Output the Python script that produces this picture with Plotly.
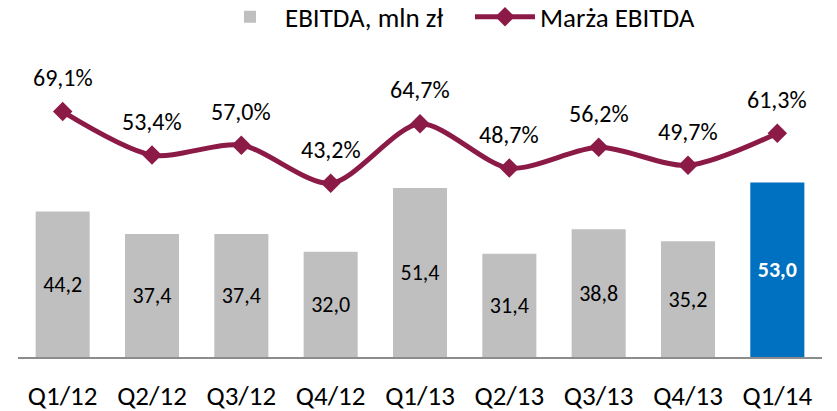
import plotly.graph_objects as go

# data
quarters = ['Q1/12', 'Q2/12', 'Q3/12', 'Q4/12', 'Q1/13', 'Q2/13', 'Q3/13', 'Q4/13', 'Q1/14']
ebitda = [44.2, 37.4, 37.4, 32.0, 51.4, 31.4, 38.8, 35.2, 53.0]
margin = [69.1, 53.4, 57.0, 43.2, 64.7, 48.7, 56.2, 49.7, 61.3]

GRAY = '#BFBFBF'
BLUE = '#0070C0'
WINE = '#8C1A47'
FONT = 'Carlito, Lato, sans-serif'

bar_colors = [GRAY] * (len(quarters) - 1) + [BLUE]
bar_text = ['%.1f' % v for v in ebitda]
bar_text = [t.replace('.', ',') for t in bar_text]
bar_text[-1] = '<b>' + bar_text[-1] + '</b>'
bar_font_col = ['black'] * (len(quarters) - 1) + ['white']

fig = go.Figure()

fig.add_trace(go.Bar(x=quarters, y=ebitda,
                     name='EBITDA, mln zł',
                     marker=dict(color=bar_colors, line=dict(width=0)),
                     text=bar_text,
                     textposition='inside',
                     insidetextanchor='middle',
                     textangle=0,
                     textfont=dict(size=22, color=bar_font_col, family=FONT),
                     hoverinfo='skip'))

fig.add_trace(go.Scatter(x=quarters, y=margin,
                         name='Marża EBITDA',
                         yaxis='y2',
                         mode='lines+markers',
                         line=dict(color=WINE, width=5, shape='spline', smoothing=0.8),
                         marker=dict(symbol='diamond', size=15, color=WINE),
                         hoverinfo='skip'))

# percent labels over the line
for q, m in zip(quarters, margin):
    fig.add_annotation(x=q, y=m, yref='y2',
                       text=('%.1f%%' % m).replace('.', ','),
                       showarrow=False, yshift=34,
                       font=dict(size=24, color='black', family=FONT))

# fixed category range, otherwise the markers pad the axis
fig.update_xaxes(range=[-0.5, len(quarters) - 0.5],
                 showgrid=False, zeroline=False, automargin=False,
                 showline=True, linecolor='#8C8C8C', linewidth=1.5,
                 ticks='', ticklabelstandoff=14,
                 tickfont=dict(size=27, color='black', family=FONT))
fig.update_layout(
    width=837, height=411,
    margin=dict(l=18, r=15, t=0, b=54, autoexpand=False),
    plot_bgcolor='white', paper_bgcolor='white',
    bargap=0.395,
    font=dict(family=FONT, color='black'),
    yaxis=dict(range=[0, 108.5], visible=False, showgrid=False, zeroline=False),
    yaxis2=dict(range=[-19.5, 109.4], overlaying='y', side='right',
                visible=False, showgrid=False, zeroline=False),
    legend=dict(orientation='h', x=0.245, xanchor='left', y=0.952, yanchor='middle',
                font=dict(size=27, family=FONT), itemwidth=60,
                entrywidth=180, tracegroupgap=0,
                bgcolor='rgba(0,0,0,0)'),
)

# drop the page's default body margin so the figure sits at the window corner
fig.write_html("out.html", config={'displayModeBar': False},
               post_script="document.body.style.margin='0';")
